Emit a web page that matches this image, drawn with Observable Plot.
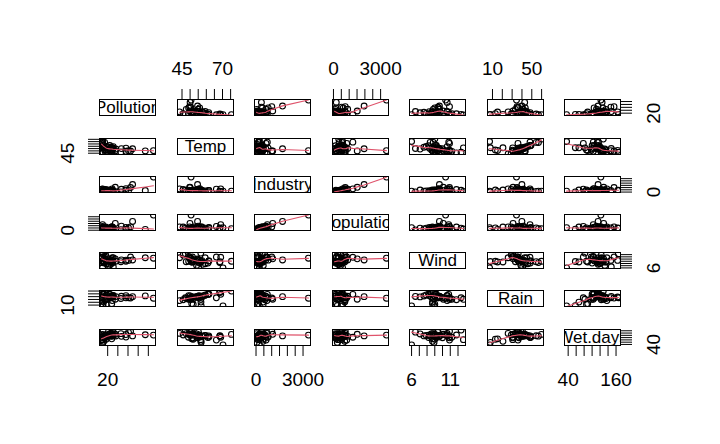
<!DOCTYPE html>
<html><head><meta charset="utf-8">
<script src="https://cdn.jsdelivr.net/npm/d3@7"></script>
<script src="https://cdn.jsdelivr.net/npm/@observablehq/plot@0.6"></script>
<style>
html,body{margin:0;padding:0;background:#fff;}
#chart{position:relative;width:720px;height:444px;overflow:hidden;background:#fff;}
#chart svg{position:absolute;overflow:visible;}
</style></head><body><div id="chart"></div>
<script>
// Variable names (diagonal labels)
const labels = ["Pollution", "Temp", "Industry", "Population", "Wind", "Rain", "Wet.days"];
// 41 US cities
const pollution = [46,11,24,47,11,31,110,23,65,26,9,17,17,35,56,10,28,14,14,13,30,10,10,16,29,18,9,31,14,69,10,61,94,26,28,12,29,56,28,8,36];
const temp = [47.6,56.8,61.5,55.0,47.1,55.2,50.6,54.0,49.7,51.5,66.2,51.9,49.0,49.9,49.1,68.9,52.3,68.4,54.5,61.0,55.6,61.6,75.5,45.7,43.5,59.4,68.3,59.3,51.5,54.6,70.3,50.4,50.0,57.8,51.0,56.7,51.1,55.9,57.3,56.6,54.0];
const industry = [44,46,368,625,391,35,3344,462,1007,266,641,454,104,1064,412,721,361,136,381,91,291,337,207,569,699,275,204,96,181,1692,213,347,343,197,137,453,379,775,434,125,80];
const population = [116,244,497,905,463,71,3369,453,751,540,844,515,201,1513,158,1233,746,529,507,132,593,624,335,717,744,448,361,308,347,1950,582,520,179,299,176,716,531,622,757,277,80];
const wind = [8.8,8.9,9.1,9.6,12.4,6.5,10.4,7.1,10.9,8.6,10.9,9.0,11.2,10.1,9.0,10.8,9.7,8.8,10.0,8.2,8.3,9.2,9.0,11.8,10.6,7.9,8.4,10.6,10.9,9.6,6.0,9.4,10.6,7.6,8.7,8.7,9.4,9.5,9.3,12.7,9.0];
const rain = [33.36,7.77,48.34,41.31,36.11,40.75,34.44,39.04,34.99,37.01,35.94,12.95,30.85,30.96,43.37,48.19,38.74,54.47,37.00,48.52,43.11,49.10,59.80,29.07,25.94,46.00,56.77,44.68,30.18,39.93,7.05,36.22,42.75,42.59,15.17,20.66,38.79,35.89,38.89,30.58,40.25];
const wetDays = [135,58,115,111,166,148,122,132,155,134,78,86,103,129,127,103,121,116,99,100,123,105,128,123,137,119,113,116,98,115,36,147,125,115,89,67,164,105,111,82,114];

// Tick values per variable
const pollutionTicks = [20,40,60,80,100];
const tempTicks = [45,50,55,60,65,70,75];
const industryTicks = [0,500,1000,1500,2000,2500,3000];
const populationTicks = [0,500,1000,1500,2000,2500,3000];
const windTicks = [6,7,8,9,10,11,12];
const rainTicks = [10,20,30,40,50,60];
const wetDaysTicks = [40,60,80,100,120,140,160];
// Tick labels that are visible (others suppressed by overlap)
const xAxisLabels = [[20],[45,70],[0,3000],[0,3000],[6,11],[10,50],[40,160]];
const yAxisLabels = [[20],[45],[0],[0],[6],[10],[40]];

const vars = [pollution, temp, industry, population, wind, rain, wetDays];
const varTicks = [pollutionTicks, tempTicks, industryTicks, populationTicks, windTicks, rainTicks, wetDaysTicks];

// R-style lowess (clowess)
function lowest(x, y, n, xs, nleft, nright, w, userw, rw) {
  const range = x[n-1] - x[0];
  const h = Math.max(xs - x[nleft], x[nright] - xs);
  const h9 = 0.999*h, h1 = 0.001*h;
  let a = 0, j = nleft;
  while (j < n) {
    w[j] = 0;
    const r = Math.abs(x[j] - xs);
    if (r <= h9) {
      if (r <= h1) w[j] = 1;
      else w[j] = Math.pow(1 - Math.pow(r/h, 3), 3);
      if (userw) w[j] *= rw[j];
      a += w[j];
    } else if (x[j] > xs) break;
    j++;
  }
  const nrt = j - 1;
  if (a <= 0) return null;
  for (j = nleft; j <= nrt; j++) w[j] /= a;
  if (h > 0) {
    a = 0;
    for (j = nleft; j <= nrt; j++) a += w[j]*x[j];
    let b = xs - a, c = 0;
    for (j = nleft; j <= nrt; j++) c += w[j]*(x[j]-a)*(x[j]-a);
    if (Math.sqrt(c) > 0.001*range) {
      b /= c;
      for (j = nleft; j <= nrt; j++) w[j] *= (b*(x[j]-a) + 1);
    }
  }
  let ys = 0;
  for (j = nleft; j <= nrt; j++) ys += w[j]*y[j];
  return ys;
}
function lowess(x0, y0, f = 2/3, nsteps = 3) {
  const idx = d3.range(x0.length).sort((a, b) => x0[a] - x0[b] || a - b);
  const x = idx.map(k => x0[k]), y = idx.map(k => y0[k]);
  const n = x.length;
  const delta = 0.01 * (x[n-1] - x[0]);
  const ys = new Array(n).fill(0), rw = new Array(n).fill(0), res = new Array(n).fill(0);
  const ns = Math.max(2, Math.min(n, Math.floor(f*n + 1e-7)));
  let iter = 1;
  while (iter <= nsteps + 1) {
    let nleft = 0, nright = ns - 1, last = -1, i = 0;
    for (;;) {
      if (nright < n - 1) {
        const d1 = x[i] - x[nleft], d2 = x[nright+1] - x[i];
        if (d1 > d2) { nleft++; nright++; continue; }
      }
      const r = lowest(x, y, n, x[i], nleft, nright, res, iter > 1, rw);
      ys[i] = r === null ? y[i] : r;
      if (last < i - 1) {
        const denom = x[i] - x[last];
        for (let j = last + 1; j < i; j++) {
          const alpha = (x[j] - x[last]) / denom;
          ys[j] = alpha*ys[i] + (1-alpha)*ys[last];
        }
      }
      last = i;
      const cut = x[last] + delta;
      for (i = last + 1; i < n; i++) {
        if (x[i] > cut) break;
        if (x[i] === x[last]) { ys[i] = ys[last]; last = i; }
      }
      i = Math.max(last + 1, i - 1);
      if (last >= n - 1) break;
    }
    for (let k = 0; k < n; k++) res[k] = y[k] - ys[k];
    const sc = d3.sum(res, Math.abs) / n;
    if (iter > nsteps) break;
    for (let k = 0; k < n; k++) rw[k] = Math.abs(res[k]);
    const sorted = rw.slice().sort((a, b) => a - b);
    const m1 = Math.floor(n/2);
    let cmad;
    if (n % 2 === 0) { const m2 = n - m1 - 1; cmad = 3*(sorted[m1] + sorted[m2]); }
    else cmad = 6*sorted[m1];
    if (cmad < 1e-7 * sc) break;
    const c9 = 0.999*cmad, c1 = 0.001*cmad;
    for (let k = 0; k < n; k++) {
      const r = Math.abs(res[k]);
      rw[k] = r <= c1 ? 1 : r <= c9 ? Math.pow(1 - Math.pow(r/cmad, 2), 2) : 0;
    }
    iter++;
  }
  return x.map((xv, k) => ({x: xv, y: ys[k]}));
}

function ext(v) {
  const [a, b] = d3.extent(v);
  const r = b - a;
  return [a - 0.04*r, b + 0.04*r];
}

const chart = document.getElementById("chart");
const W = 56, H = 16, M = 48;
const FONT = "'Liberation Sans', Arial, sans-serif";

for (let i = 0; i < 7; i++) {
  for (let j = 0; j < 7; j++) {
    const xv = vars[j], yv = vars[i];
    const marks = [];
    if (i === j) {
      marks.push(Plot.text([labels[i]], {frameAnchor: "middle", text: d => d, fontSize: 17, fill: "black", clip: true}));
    } else {
      const pts = xv.map((x, k) => ({x, y: yv[k]}));
      marks.push(Plot.dot(pts, {x: "x", y: "y", r: 2.9, stroke: "black", strokeWidth: 1.1, fill: "none", clip: true}));
      marks.push(Plot.line(lowess(xv, yv), {x: "x", y: "y", stroke: "#DF536B", strokeWidth: 1.1, clip: true}));
    }
    marks.push(Plot.frame({stroke: "black", strokeWidth: 1, shapeRendering: "crispEdges"}));
    const fmtX = d => xAxisLabels[j].includes(d) ? String(d) : "";
    const fmtY = d => yAxisLabels[i].includes(d) ? String(d) : "";
    if (i === 0 && j % 2 === 1)
      marks.push(Plot.axisX({anchor: "top", ticks: varTicks[j], tickSize: 11, tickPadding: 14, tickFormat: fmtX, label: null, stroke: "black", fill: "black"}));
    if (i === 6 && j % 2 === 0)
      marks.push(Plot.axisX({anchor: "bottom", ticks: varTicks[j], tickSize: 11, tickPadding: 16, tickFormat: fmtX, label: null, stroke: "black", fill: "black"}));
    if (j === 0 && i % 2 === 1)
      marks.push(Plot.axisY({anchor: "left", ticks: varTicks[i], tickSize: 11, tickPadding: 15, tickRotate: -90, textAnchor: "middle", lineAnchor: "bottom", tickFormat: fmtY, label: null, stroke: "black", fill: "black"}));
    if (j === 6 && i % 2 === 0)
      marks.push(Plot.axisY({anchor: "right", ticks: varTicks[i], tickSize: 11, tickPadding: 15, tickRotate: -90, textAnchor: "middle", lineAnchor: "top", tickFormat: fmtY, label: null, stroke: "black", fill: "black"}));

    const svg = Plot.plot({
      width: W + 2*M, height: H + 2*M,
      marginLeft: M, marginRight: M, marginTop: M, marginBottom: M,
      x: {domain: ext(xv), axis: null},
      y: {domain: ext(yv), axis: null},
      style: {background: "transparent", overflow: "visible", fontFamily: FONT, fontSize: "19px", color: "black"},
      marks
    });
    const left = Math.round(99 + 77.5*j) - M;
    const top = Math.round(99.3 + 38.23*i) - M;
    svg.style.position = "absolute";
    svg.style.left = left + "px";
    svg.style.top = top + "px";
    svg.style.maxWidth = "none";
    chart.appendChild(svg);
  }
}
</script></body></html>
